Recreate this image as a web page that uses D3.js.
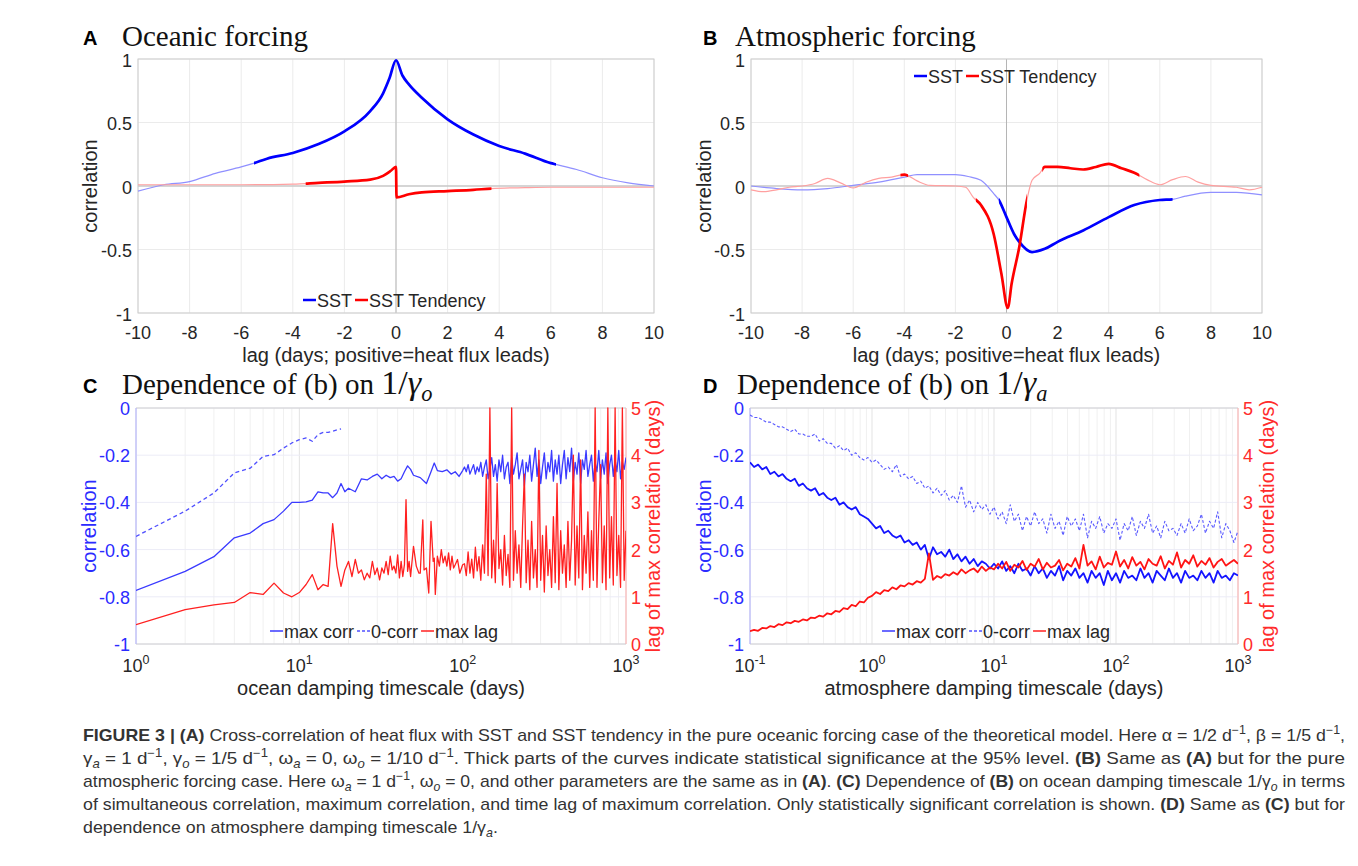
<!DOCTYPE html>
<html lang="en">
<head>
<meta charset="UTF-8">
<title>Figure 3</title>
<style>
  body { margin: 0; background: #fff; }
  svg text { font-family: "Liberation Sans", Arial, sans-serif; fill: #262626; white-space: pre; }
  svg text.serif { font-family: "Liberation Serif", "Times New Roman", serif; fill: #111; }
  svg text.cap { font-family: "Liberation Sans Narrow", "Liberation Sans", Arial, sans-serif; fill: #333; }
</style>
</head>
<body>
<svg id="fig" width="1358" height="866"></svg>
<script src="https://d3js.org/d3.v7.min.js"></script>
<script>
// ---------- data ----------
const lagTicks = [-10, -8, -6, -4, -2, 0, 2, 4, 6, 8, 10];
const corrTicksAB = [-1, -0.5, 0, 0.5, 1];
const corrTicksCD = [-1, -0.8, -0.6, -0.4, -0.2, 0];
const dayTicks = [0, 1, 2, 3, 4, 5];

// A: oceanic forcing
const lagSstA = [-10, -9, -8, -7, -6, -5.5, -5, -4, -3, -2, -1, -0.5, -0.25, 0, 0.25, 0.5, 1, 2, 3, 4, 5, 6, 6.2, 7, 8, 9, 10];
const sstA = [-0.04, 0.01, 0.035, 0.10, 0.15, 0.18, 0.215, 0.26, 0.33, 0.43, 0.59, 0.73, 0.85, 0.99, 0.87, 0.80, 0.695, 0.525, 0.405, 0.315, 0.255, 0.18, 0.17, 0.13, 0.065, 0.025, 0];
const lagTendA = [-10, -8, -6, -4, -3, -2, -1, -0.5, -0.2, 0, 0.02, 0.5, 1, 2, 3, 3.7, 5, 6, 8, 10];
const tendA = [0.01, 0.01, 0.01, 0.015, 0.025, 0.035, 0.05, 0.08, 0.12, 0.15, -0.09, -0.065, -0.05, -0.04, -0.03, -0.02, -0.013, -0.01, -0.01, -0.01];
const sigSstA = [[-5.5, 6.2]];
const sigTendA = [[-3.5, 3.7]];

// B: atmospheric forcing
const lagSstB = [-10, -9, -8, -7, -6, -5, -4, -3.5, -3, -2, -1.5, -1, -0.5, -0.3, 0, 0.3, 0.5, 1, 1.5, 2, 3, 4, 5, 6, 6.5, 7, 8, 9, 10];
const sstB = [0, -0.02, -0.03, -0.02, 0.005, 0.03, 0.07, 0.09, 0.09, 0.09, 0.075, 0.045, -0.06, -0.11, -0.245, -0.38, -0.44, -0.52, -0.495, -0.44, -0.35, -0.245, -0.15, -0.11, -0.105, -0.08, -0.05, -0.05, -0.07];
const lagTendB = [-10, -9.5, -9, -8.5, -8, -7.5, -7, -6.5, -6, -5.5, -5, -4.5, -4, -3.5, -3, -2, -1.6, -1.3, -1, -0.5, -0.2, 0.05, 0.2, 0.5, 0.8, 1, 1.3, 1.5, 2, 2.5, 3, 3.5, 4, 4.5, 5, 5.5, 6, 6.5, 7, 7.5, 8, 9, 9.5, 10];
const tendB = [-0.03, -0.045, -0.03, -0.01, 0, 0.02, 0.06, 0.025, -0.015, 0.03, 0.06, 0.07, 0.09, 0.04, 0.005, 0, -0.01, -0.09, -0.15, -0.38, -0.69, -0.96, -0.77, -0.48, -0.11, 0.045, 0.10, 0.15, 0.15, 0.14, 0.13, 0.15, 0.175, 0.14, 0.105, 0.05, 0.01, 0.05, 0.075, 0.03, 0.005, -0.01, -0.03, -0.01];
const sigSstB = [[-0.3, 6.5]];
const sigTendB = [[-4.15, -3.85], [-1.2, 0.8], [1.4, 5.2]];

// C: ocean damping timescale (days)
const cTauCorr = [1, 2, 3, 4, 5, 6, 7, 8, 9, 10, 11, 12, 13, 14, 15, 16, 17, 18, 19, 20, 22, 24, 26, 28, 30, 32, 34, 36, 38, 40, 42, 44, 46, 48, 50, 55, 60, 64, 67, 70, 75, 80, 85, 90, 95, 100];
const cMaxCorr = [-0.773, -0.692, -0.63, -0.55, -0.53, -0.49, -0.473, -0.437, -0.40, -0.40,
  -0.398, -0.39, -0.355, -0.36, -0.36, -0.38, -0.36, -0.32, -0.355, -0.34,
  -0.355, -0.30, -0.305, -0.29, -0.28, -0.30, -0.285, -0.295, -0.29, -0.31,
  -0.30, -0.27, -0.245, -0.26, -0.285, -0.295, -0.32, -0.27, -0.233, -0.265,
  -0.27, -0.262, -0.28, -0.27, -0.29, -0.265];
// 100 < tau <= 1000, evenly spaced in log10
const cMaxCorrDense = [
  -0.25, -0.27, -0.24, -0.28, -0.26, -0.24, -0.28, -0.25, -0.27, -0.23,
  -0.29, -0.25, -0.22, -0.30, -0.26, -0.21, -0.29, -0.24, -0.31, -0.22,
  -0.27, -0.20, -0.30, -0.25, -0.23, -0.32, -0.21, -0.28, -0.24, -0.19,
  -0.30, -0.26, -0.22, -0.33, -0.23, -0.27, -0.20, -0.31, -0.24, -0.17,
  -0.29, -0.22, -0.32, -0.25, -0.19, -0.30, -0.23, -0.27, -0.18, -0.31,
  -0.22, -0.28, -0.20, -0.32, -0.24, -0.18, -0.30, -0.21, -0.27, -0.17,
  -0.31, -0.23, -0.28, -0.19, -0.32, -0.22, -0.26, -0.18, -0.29, -0.24,
  -0.20, -0.31, -0.23, -0.27, -0.18, -0.30, -0.22, -0.28, -0.19, -0.32,
  -0.24, -0.20, -0.29, -0.22, -0.27, -0.18, -0.30, -0.23, -0.26, -0.21];
const cTauZero = [1, 2, 3, 4, 5, 6, 7, 8, 9, 10, 11, 12, 13, 14, 15, 16, 17, 18];
const cZeroCorr = [-0.544, -0.437, -0.36, -0.275, -0.255, -0.205, -0.198, -0.17, -0.148, -0.134, -0.127, -0.141, -0.113, -0.103, -0.103, -0.099, -0.092, -0.089];
const cTauLag = [1, 2, 3, 4, 5, 6, 7, 8, 9, 10, 11, 12, 13, 14, 15, 16, 17, 18, 19, 20, 21, 22, 23, 24, 25, 26, 27, 28, 29, 30,
  31, 32, 33, 34, 35, 36, 37, 38, 39, 40, 41, 42, 43, 44, 45, 46, 47, 48, 50, 52, 54, 55, 57, 58, 60, 62, 64, 66, 67, 68,
  70, 72, 74, 76, 78, 80, 82, 84, 86, 88, 90, 93, 96, 100];
const cMaxLag = [0.41, 0.73, 0.83, 0.88, 1.09, 1.05, 1.29, 1.08, 1.0, 1.09,
  1.26, 1.47, 1.15, 1.26, 1.22, 2.55, 1.65, 1.22, 1.57, 1.75,
  1.43, 1.79, 1.5, 1.57, 1.36, 1.5, 1.4, 1.75, 1.47, 1.61,
  1.36, 1.61, 1.5, 1.75, 1.47, 1.86, 1.57, 1.65, 1.5, 1.89,
  1.4, 1.75, 1.43, 1.68, 3.06, 1.54, 1.75, 1.43, 2.07, 1.65,
  1.5, 1.5, 2.63, 1.57, 1.61, 1.08, 2.6, 1.75, 1.82, 1.05,
  1.86, 1.65, 2.0, 1.72, 1.86, 1.65, 1.93, 1.57, 1.86, 1.61,
  1.68, 1.79, 1.5, 1.68];
const cMaxLagDense = [
  1.70, 1.45, 1.95, 1.50, 1.80, 1.40, 2.05, 1.55, 1.85, 1.35,
  2.10, 1.50, 3.60, 1.45, 5.00, 1.40, 2.20, 1.30, 3.40, 1.60,
  2.00, 1.25, 2.30, 1.45, 1.90, 1.20, 5.00, 1.35, 2.40, 1.50,
  2.10, 1.20, 2.50, 3.60, 1.30, 2.20, 1.15, 2.60, 1.40, 2.00,
  1.20, 4.10, 1.35, 2.30, 1.10, 2.50, 1.45, 2.00, 1.20, 2.70,
  1.30, 3.40, 1.15, 2.40, 1.50, 2.10, 1.20, 2.60, 1.35, 2.20,
  4.00, 1.25, 2.50, 1.40, 3.90, 1.15, 2.30, 1.50, 2.80, 1.20,
  2.40, 1.35, 5.00, 1.20, 2.60, 3.80, 1.30, 2.50, 1.15, 5.00,
  1.40, 2.70, 1.25, 5.00, 1.45, 2.30, 1.20, 5.00, 1.35, 2.40];

// D: atmosphere damping timescale, 0.1 .. 1000 days, evenly spaced in log10 (30 per decade)
const dMaxCorr = [
  -0.23, -0.25, -0.24, -0.26, -0.25, -0.28, -0.27, -0.29, -0.28, -0.30,
  -0.31, -0.30, -0.33, -0.32, -0.34, -0.35, -0.34, -0.37, -0.36, -0.38,
  -0.39, -0.38, -0.41, -0.40, -0.42, -0.43, -0.42, -0.45, -0.46, -0.47,
  -0.49, -0.51, -0.50, -0.53, -0.52, -0.54, -0.55, -0.54, -0.57, -0.56,
  -0.58, -0.57, -0.60, -0.58, -0.64, -0.59, -0.62, -0.61, -0.63, -0.60,
  -0.64, -0.62, -0.65, -0.63, -0.66, -0.64, -0.67, -0.65, -0.66, -0.68,
  -0.66, -0.68, -0.65, -0.69, -0.67, -0.70, -0.66, -0.69, -0.68, -0.71,
  -0.67, -0.70, -0.68, -0.72, -0.69, -0.71, -0.67, -0.73, -0.69, -0.71,
  -0.68, -0.72, -0.70, -0.74, -0.69, -0.72, -0.70, -0.75, -0.69, -0.73,
  -0.70, -0.74, -0.69, -0.72, -0.71, -0.73, -0.68, -0.72, -0.70, -0.74,
  -0.69, -0.71, -0.73, -0.68, -0.72, -0.70, -0.74, -0.69, -0.72, -0.71,
  -0.73, -0.69, -0.72, -0.70, -0.74, -0.69, -0.72, -0.71, -0.73, -0.70, -0.71];
const dZeroCorr = [
  -0.03, -0.04, -0.04, -0.05, -0.06, -0.06, -0.07, -0.08, -0.08, -0.09,
  -0.10, -0.09, -0.11, -0.11, -0.12, -0.12, -0.11, -0.14, -0.13, -0.15,
  -0.15, -0.17, -0.16, -0.18, -0.17, -0.20, -0.19, -0.21, -0.22, -0.21,
  -0.23, -0.22, -0.24, -0.26, -0.25, -0.27, -0.24, -0.29, -0.28, -0.30,
  -0.29, -0.32, -0.31, -0.34, -0.33, -0.36, -0.34, -0.37, -0.35, -0.39,
  -0.37, -0.40, -0.33, -0.42, -0.39, -0.44, -0.40, -0.43, -0.41, -0.45,
  -0.42, -0.47, -0.44, -0.49, -0.41, -0.48, -0.45, -0.52, -0.46, -0.50,
  -0.44, -0.49, -0.47, -0.53, -0.45, -0.51, -0.48, -0.54, -0.46, -0.50,
  -0.47, -0.52, -0.45, -0.55, -0.48, -0.51, -0.46, -0.53, -0.49, -0.51,
  -0.47, -0.56, -0.49, -0.52, -0.46, -0.54, -0.48, -0.51, -0.45, -0.53,
  -0.50, -0.55, -0.48, -0.52, -0.51, -0.54, -0.49, -0.53, -0.47, -0.52,
  -0.50, -0.45, -0.53, -0.48, -0.51, -0.44, -0.55, -0.49, -0.52, -0.57, -0.52];
const dMaxLag = [
  0.27, 0.30, 0.28, 0.34, 0.33, 0.38, 0.36, 0.42, 0.40, 0.46,
  0.44, 0.49, 0.47, 0.52, 0.50, 0.56, 0.55, 0.60, 0.58, 0.65,
  0.63, 0.70, 0.68, 0.76, 0.74, 0.83, 0.80, 0.90, 0.88, 0.98,
  1.02, 1.10, 1.06, 1.14, 1.12, 1.20, 1.16, 1.24, 1.22, 1.29,
  1.26, 1.33, 1.30, 1.38, 1.92, 1.36, 1.44, 1.40, 1.48, 1.45,
  1.52, 1.47, 1.58, 1.50, 1.56, 1.60, 1.52, 1.64, 1.55, 1.62,
  1.58, 1.70, 1.60, 1.74, 1.55, 1.68, 1.62, 1.76, 1.57, 1.70,
  1.64, 1.80, 1.58, 1.72, 1.62, 1.66, 1.78, 1.56, 1.70, 1.64,
  1.82, 1.60, 2.10, 1.66, 1.75, 1.58, 1.85, 1.62, 1.72, 1.68,
  1.96, 1.64, 1.78, 1.60, 1.84, 1.66, 1.74, 1.58, 1.80, 1.70,
  1.66, 1.86, 1.60, 1.76, 1.68, 1.94, 1.62, 1.78, 1.70, 1.88,
  1.64, 1.76, 1.68, 1.82, 1.62, 1.74, 1.80, 1.66, 1.72, 1.78, 1.70];

const cTauDense = d3.range(1, cMaxCorrDense.length + 1).map(i => 10 ** (2 + i / 90));
const dTau = d3.range(dMaxCorr.length).map(i => 10 ** (-1 + i / 30));

// ---------- drawing ----------
const svg = d3.select("#fig");
const defs = svg.append("defs");
let clipCount = 0;

function rich(text, parts, size) {
  let shift = 0;
  parts.forEach(([str, st, fs]) => {
    const ts = text.append("tspan").text(str);
    const base = fs || size;
    if (fs) ts.attr("font-size", fs);
    let target = 0;
    if (st === "sup") { target = -0.4 * size; ts.attr("font-size", base * 0.7); }
    if (st === "sub") { target = 0.25 * size; ts.attr("font-size", base * 0.7).attr("font-style", "italic"); }
    if (st === "b") ts.attr("font-weight", "bold");
    if (st === "i") ts.attr("font-style", "italic");
    if (target !== shift) { ts.attr("dy", target - shift); shift = target; }
  });
}

function title(lx, tx, y, letter, parts) {
  svg.append("text").attr("x", lx).attr("y", y - 1).attr("font-size", 20)
    .attr("font-weight", "bold").style("fill", "#000").text(letter);
  const t = svg.append("text").attr("class", "serif").attr("x", tx).attr("y", y)
    .attr("font-size", 29);
  rich(t, parts, 29);
}

function legend(x0, yc, items) {
  let cx = x0;
  items.forEach(it => {
    svg.append("line").attr("x1", cx).attr("x2", cx + 13).attr("y1", yc).attr("y2", yc)
      .attr("stroke", it.color).attr("stroke-width", it.w || 1.5)
      .attr("stroke-dasharray", it.dash || null);
    const t = svg.append("text").attr("x", cx + 14).attr("y", yc + 6.5)
      .attr("font-size", 18).text(it.label);
    cx += 14 + t.node().getComputedTextLength() + 3;
  });
}

function lagPanel(p) {
  const g = svg.append("g");
  const x = d3.scaleLinear().domain([-10, 10]).range([p.left, p.right]);
  const y = d3.scaleLinear().domain([-1, 1]).range([p.bottom, p.top]);

  g.selectAll(null).data(lagTicks).join("line")
    .attr("x1", d => x(d)).attr("x2", d => x(d)).attr("y1", p.top).attr("y2", p.bottom)
    .attr("stroke", "#ebebeb");
  g.selectAll(null).data(corrTicksAB).join("line")
    .attr("x1", p.left).attr("x2", p.right).attr("y1", d => y(d)).attr("y2", d => y(d))
    .attr("stroke", "#ebebeb");
  g.append("line").attr("x1", p.left).attr("x2", p.right).attr("y1", y(0)).attr("y2", y(0))
    .attr("stroke", "#b5b5b5");
  g.append("line").attr("x1", x(0)).attr("x2", x(0)).attr("y1", p.top).attr("y2", p.bottom)
    .attr("stroke", "#b5b5b5");
  g.append("rect").attr("x", p.left).attr("y", p.top)
    .attr("width", p.right - p.left).attr("height", p.bottom - p.top)
    .attr("fill", "none").attr("stroke", "#cdcdcd");

  g.selectAll(null).data(lagTicks).join("text")
    .attr("x", d => x(d)).attr("y", p.bottom + 26).attr("text-anchor", "middle")
    .attr("font-size", 18).text(d => d);
  g.selectAll(null).data(corrTicksAB).join("text")
    .attr("x", p.left - 6).attr("y", d => y(d) + 7.5).attr("text-anchor", "end")
    .attr("font-size", 18).text(d => d);
  g.append("text").attr("x", (p.left + p.right) / 2).attr("y", p.bottom + 49)
    .attr("text-anchor", "middle").attr("font-size", 20)
    .text("lag (days; positive=heat flux leads)");
  g.append("text").attr("transform", `translate(${p.yLabelX},${(p.top + p.bottom) / 2}) rotate(-90)`)
    .attr("text-anchor", "middle").attr("font-size", 20).text("correlation");

  const line = d3.line().x(d => x(d[0])).y(d => y(d[1])).curve(d3.curveMonotoneX);
  p.series.forEach(s => {
    const pts = d3.zip(s.lag, s.val);
    g.append("path").attr("d", line(pts)).attr("fill", "none")
      .attr("stroke", s.light).attr("stroke-width", 1.2);
    const id = "sig" + (clipCount++);
    defs.append("clipPath").attr("id", id).selectAll("rect").data(s.sig).join("rect")
      .attr("x", d => x(d[0])).attr("width", d => x(d[1]) - x(d[0]))
      .attr("y", p.top - 10).attr("height", p.bottom - p.top + 20);
    g.append("path").attr("d", line(pts)).attr("fill", "none")
      .attr("clip-path", `url(#${id})`)
      .attr("stroke", s.color).attr("stroke-width", 2.7).attr("stroke-linejoin", "round");
  });
}

function logPanel(p) {
  const g = svg.append("g");
  const x = d3.scaleLog().domain(p.xDomain).range([p.left, p.right]);
  const yL = d3.scaleLinear().domain([-1, 0]).range([p.bottom, p.top]);
  const yR = d3.scaleLinear().domain([0, 5]).range([p.bottom, p.top]);
  const isDecade = d => Math.abs(Math.log10(d) - Math.round(Math.log10(d))) < 1e-9;

  g.selectAll(null).data(x.ticks()).join("line")
    .attr("x1", d => x(d)).attr("x2", d => x(d)).attr("y1", p.top).attr("y2", p.bottom)
    .attr("stroke", d => isDecade(d) ? "#e3e3e3" : "#f0f0f0");
  g.selectAll(null).data(corrTicksCD).join("line")
    .attr("x1", p.left).attr("x2", p.right).attr("y1", d => yL(d)).attr("y2", d => yL(d))
    .attr("stroke", "#ececf7");
  g.append("line").attr("x1", p.left).attr("x2", p.right).attr("y1", p.top).attr("y2", p.top).attr("stroke", "#d0d0d0");
  g.append("line").attr("x1", p.left).attr("x2", p.right).attr("y1", p.bottom).attr("y2", p.bottom).attr("stroke", "#d0d0d0");
  g.append("line").attr("x1", p.left).attr("x2", p.left).attr("y1", p.top).attr("y2", p.bottom).attr("stroke", "#aeaeff");
  g.append("line").attr("x1", p.right).attr("x2", p.right).attr("y1", p.top).attr("y2", p.bottom).attr("stroke", "#ffaeae");

  // decade labels 10^n
  g.selectAll(null).data(x.ticks().filter(isDecade)).join("text")
    .attr("x", d => x(d)).attr("y", p.bottom + 28).attr("text-anchor", "middle")
    .attr("font-size", 18)
    .each(function (d) {
      const t = d3.select(this);
      t.append("tspan").text("10");
      t.append("tspan").attr("font-size", 12.5).attr("dy", -8).text(Math.round(Math.log10(d)));
    });
  g.selectAll(null).data(corrTicksCD).join("text")
    .attr("x", p.left - 6).attr("y", d => yL(d) + 7).attr("text-anchor", "end")
    .attr("font-size", 18).style("fill", "#2b2bff").text(d => d);
  g.selectAll(null).data(dayTicks).join("text")
    .attr("x", p.right + 5).attr("y", d => yR(d) + 7).attr("text-anchor", "start")
    .attr("font-size", 18).style("fill", "#ff2b2b").text(d => d);

  g.append("text").attr("x", (p.left + p.right) / 2).attr("y", p.bottom + 51)
    .attr("text-anchor", "middle").attr("font-size", 20).text(p.xLabel);
  g.append("text").attr("transform", `translate(${p.yLabelX},${(p.top + p.bottom) / 2}) rotate(-90)`)
    .attr("text-anchor", "middle").attr("font-size", 20).style("fill", "#2b2bff").text("correlation");
  g.append("text").attr("transform", `translate(${p.y2LabelX},${(p.top + p.bottom) / 2}) rotate(-90)`)
    .attr("text-anchor", "middle").attr("font-size", 20).style("fill", "#ff2b2b")
    .text("lag of max correlation (days)");

  const id = "plot" + (clipCount++);
  defs.append("clipPath").attr("id", id).append("rect")
    .attr("x", p.left).attr("y", p.top - 1).attr("width", p.right - p.left).attr("height", p.bottom - p.top + 2);
  const body = g.append("g").attr("clip-path", `url(#${id})`);
  p.series.forEach(s => {
    const sc = s.axis === "right" ? yR : yL;
    const line = d3.line().x(d => x(d[0])).y(d => sc(d[1]));
    body.append("path").attr("d", line(d3.zip(s.tau, s.val))).attr("fill", "none")
      .attr("stroke", s.color).attr("stroke-width", s.w).attr("stroke-dasharray", s.dash || null)
      .attr("stroke-linejoin", "round");
  });
}

// ---------- panels ----------
lagPanel({
  left: 138, right: 654, top: 59, bottom: 313, yLabelX: 97,
  series: [
    { lag: lagSstA, val: sstA, sig: sigSstA, color: "#0000ff", light: "#9090ff" },
    { lag: lagTendA, val: tendA, sig: sigTendA, color: "#ff0000", light: "#ffa0a0" }
  ]
});
lagPanel({
  left: 751, right: 1262, top: 59, bottom: 313, yLabelX: 711,
  series: [
    { lag: lagSstB, val: sstB, sig: sigSstB, color: "#0000ff", light: "#9090ff" },
    { lag: lagTendB, val: tendB, sig: sigTendB, color: "#ff0000", light: "#ffa0a0" }
  ]
});
logPanel({
  left: 136, right: 626, top: 408, bottom: 644, xDomain: [1, 1000],
  yLabelX: 96, y2LabelX: 660, xLabel: "ocean damping timescale (days)",
  series: [
    { tau: cTauZero, val: cZeroCorr, color: "#5050ff", w: 1.3, dash: "4,3" },
    { tau: cTauCorr.concat(cTauDense), val: cMaxCorr.concat(cMaxCorrDense), color: "#3a3aff", w: 1.3 },
    { tau: cTauLag.concat(cTauDense), val: cMaxLag.concat(cMaxLagDense), color: "#ff2020", w: 1.3, axis: "right" }
  ]
});
logPanel({
  left: 750, right: 1238, top: 408, bottom: 644, xDomain: [0.1, 1000],
  yLabelX: 711, y2LabelX: 1274, xLabel: "atmosphere damping timescale (days)",
  series: [
    { tau: dTau, val: dZeroCorr, color: "#5a5aff", w: 1.1, dash: "3,2" },
    { tau: dTau, val: dMaxCorr, color: "#1414ff", w: 1.8 },
    { tau: dTau, val: dMaxLag, color: "#ff1414", w: 1.8, axis: "right" }
  ]
});

// titles
title(83, 122, 46, "A", [["Oceanic forcing"]]);
title(703, 735, 46, "B", [["Atmospheric forcing"]]);
title(83, 122, 394, "C", [["Dependence of (b) on "], ["1/", null, 34], ["γ", "i", 34], ["o", "sub", 32]]);
title(703, 737, 394, "D", [["Dependence of (b) on "], ["1/", null, 34], ["γ", "i", 34], ["a", "sub", 32]]);

// legends
legend(303, 300, [{ label: "SST", color: "#0000ff", w: 2.5 }, { label: "SST Tendency", color: "#ff0000", w: 2.5 }]);
legend(914, 76, [{ label: "SST", color: "#0000ff", w: 2.5 }, { label: "SST Tendency", color: "#ff0000", w: 2.5 }]);
legend(270, 631, [{ label: "max corr", color: "#3a3aff" }, { label: "0-corr", color: "#5050ff", dash: "3,2" }, { label: "max lag", color: "#ff2020" }]);
legend(882, 631, [{ label: "max corr", color: "#3a3aff" }, { label: "0-corr", color: "#5050ff", dash: "3,2" }, { label: "max lag", color: "#ff2020" }]);

// caption
const caption = [
  [["FIGURE 3 | ", "b"], ["(A)", "b"], [" Cross-correlation of heat flux with SST and SST tendency in the pure oceanic forcing case of the theoretical model. Here α = 1/2 d"], ["−1", "sup"], [", β = 1/5 d"], ["−1", "sup"], [","]],
  [["γ"], ["a", "sub"], [" = 1 d"], ["−1", "sup"], [", γ"], ["o", "sub"], [" = 1/5 d"], ["−1", "sup"], [", ω"], ["a", "sub"], [" = 0, ω"], ["o", "sub"], [" = 1/10 d"], ["−1", "sup"], [". Thick parts of the curves indicate statistical significance at the 95% level. "], ["(B)", "b"], [" Same as "], ["(A)", "b"], [" but for the pure"]],
  [["atmospheric forcing case. Here ω"], ["a", "sub"], [" = 1 d"], ["−1", "sup"], [", ω"], ["o", "sub"], [" = 0, and other parameters are the same as in "], ["(A)", "b"], [". "], ["(C)", "b"], [" Dependence of "], ["(B)", "b"], [" on ocean damping timescale 1/γ"], ["o", "sub"], [" in terms"]],
  [["of simultaneous correlation, maximum correlation, and time lag of maximum correlation. Only statistically significant correlation is shown. "], ["(D)", "b"], [" Same as "], ["(C)", "b"], [" but for"]],
  [["dependence on atmosphere damping timescale 1/γ"], ["a", "sub"], ["."]]
];
const capWidth = 1262;
const capLines = caption.map((parts, i) => {
  const t = svg.append("text").attr("class", "cap").attr("x", 83).attr("y", 741 + i * 23).attr("font-size", 17);
  rich(t, parts, 17);
  return t;
});
const capScale = capWidth / capLines[0].node().getComputedTextLength();
capLines.forEach((t, i) => {
  const w = i < capLines.length - 1 ? capWidth : t.node().getComputedTextLength() * capScale;
  t.attr("textLength", w).attr("lengthAdjust", "spacingAndGlyphs");
});
</script>
</body>
</html>
